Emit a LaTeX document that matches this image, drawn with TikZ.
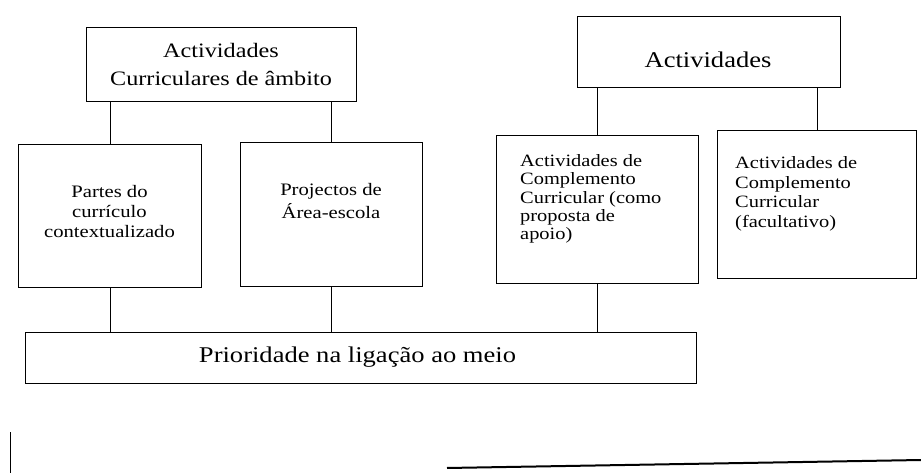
\documentclass[tikz,border=0pt]{standalone}
\usepackage{fontspec}
\setmainfont{Liberation Serif}[FakeStretch=1.18]
\begin{document}
\begin{tikzpicture}[x=1pt,y=-1pt,
  box/.style={draw, line width=1pt, inner sep=0pt, anchor=north west},
  conn/.style={line width=0.9pt},
  bigtxt/.style={inner sep=0pt, anchor=north, align=center},
  smalltxt/.style={inner sep=0pt, font=\fontsize{17}{19}\selectfont}]
\useasboundingbox (0,0) rectangle (921,473);
% boxes
\node[box, minimum width=270pt, minimum height=74pt] (A) at (86,27) {};
\node[box, minimum width=263pt, minimum height=71pt] (B) at (577,16) {};
\node[box, minimum width=183pt, minimum height=143pt] (C) at (18,144) {};
\node[box, minimum width=182pt, minimum height=144pt] (D) at (240,142) {};
\node[box, minimum width=202pt, minimum height=148pt] (E) at (496,135) {};
\node[box, minimum width=199pt, minimum height=148pt] (F) at (717,130) {};
\node[box, minimum width=671pt, minimum height=51pt] (G) at (25,332) {};
% texts
\node[bigtxt, font=\fontsize{20.5}{28}\selectfont] (At) at (221,42.7) {Actividades\\Curriculares de âmbito};
\node[bigtxt, font=\fontsize{22.5}{28}\selectfont] (Bt) at (708,51.3) {Actividades};
\node[smalltxt, anchor=north, align=center, font=\fontsize{17.5}{20}\selectfont] (Ct) at (109.5,185.4) {Partes do\\currículo\\contextualizado};
\node[smalltxt, anchor=north, align=center, font=\fontsize{17.5}{23}\selectfont] (Dt) at (331,183.4) {Projectos de\\Área-escola};
\node[smalltxt, anchor=north west, align=left, font=\fontsize{17.3}{18.3}\selectfont] (Et) at (520,154.4) {Actividades de\\Complemento\\Curricular (como\\proposta de\\apoio)};
\node[smalltxt, anchor=north west, align=left, font=\fontsize{17.3}{19.5}\selectfont] (Ft) at (735,156.4) {Actividades de\\Complemento\\Curricular\\(facultativo)};
\node[bigtxt, font=\fontsize{22.5}{28}\selectfont] (Gt) at (357.5,346.3) {Prioridade na ligação ao meio};
% connectors
\draw[conn] (C.north) -- (C.north |- A.south);
\draw[conn] (D.north) -- (D.north |- A.south);
\draw[conn] (E.north) -- (E.north |- B.south);
\draw[conn] (F.north) -- (F.north |- B.south);
\draw[conn] (C.south) -- (C.south |- G.north);
\draw[conn] (D.south) -- (D.south |- G.north);
\draw[conn] (E.south) -- (E.south |- G.north);
% bottom lines
\coordinate (v1) at (10,432);
\coordinate (v2) at (10,473);
\draw[line width=1pt] (v1) -- (v2);
\coordinate (h1) at (447,468);
\coordinate (h2) at (921,460);
\draw[line width=2pt] (h1) -- (h2);
\end{tikzpicture}
\end{document}
